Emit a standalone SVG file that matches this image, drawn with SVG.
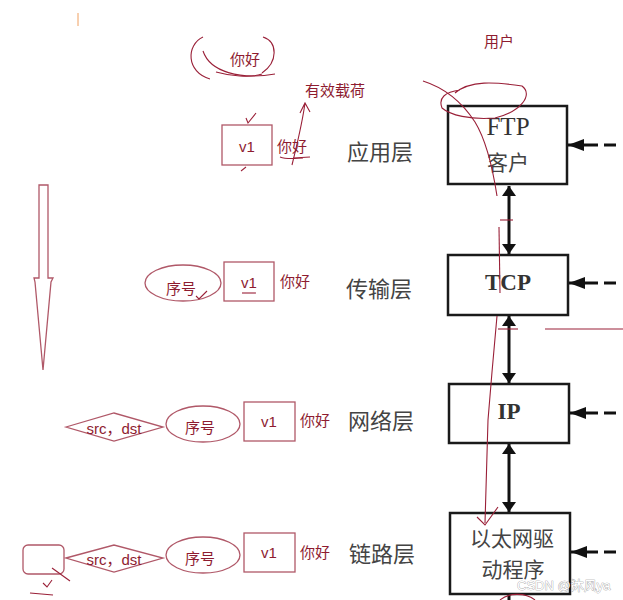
<svg xmlns="http://www.w3.org/2000/svg" width="623" height="600" viewBox="0 0 623 600">
<defs>
<marker id="ah" viewBox="0 0 10 14" refX="10" refY="7" markerWidth="10" markerHeight="14" markerUnits="userSpaceOnUse" orient="auto-start-reverse">
<path d="M0,0 L10,7 L0,14 Z" fill="#111"/>
</marker>
<marker id="al" viewBox="0 0 16 12" refX="16" refY="6" markerWidth="16" markerHeight="12" markerUnits="userSpaceOnUse" orient="auto">
<path d="M0,0 L16,6 L0,12 Z" fill="#111"/>
</marker>
</defs>
<style>
.box{fill:#fff;stroke:#1a1a1a;stroke-width:2.5}
.layer{font-family:"Noto Sans CJK SC",sans-serif;font-size:22px;fill:#444}
.bt{font-family:"Liberation Serif","Noto Sans CJK SC",serif;fill:#333;text-anchor:middle}
.cj{font-family:"Noto Sans CJK SC",sans-serif;font-size:21px;fill:#444;text-anchor:middle}
.conn{stroke:#111;stroke-width:3;fill:none}
.dash{stroke:#111;stroke-width:3;fill:none}
.rs{fill:none;stroke:#b05868;stroke-width:1.3}
.rd{fill:none;stroke:#9a2038;stroke-width:1.1}
.rt{font-family:"Liberation Sans","Noto Sans CJK SC",sans-serif;font-size:15px;fill:#8e1c30}
.rtc{font-family:"Liberation Sans","Noto Sans CJK SC",sans-serif;font-size:15px;fill:#8e1c30;text-anchor:middle}
</style>
<rect width="623" height="600" fill="#fff"/>

<!-- connectors -->
<g id="connectors">
<line class="conn" x1="509" y1="186" x2="509" y2="254" marker-start="url(#ah)" marker-end="url(#ah)"/>
<line class="conn" x1="509" y1="316" x2="509" y2="383" marker-start="url(#ah)" marker-end="url(#ah)"/>
<line class="conn" x1="509" y1="444" x2="509" y2="512" marker-start="url(#ah)" marker-end="url(#ah)"/>
<line class="conn" x1="509" y1="600" x2="509" y2="595"/>
<line class="conn" x1="598" y1="145" x2="568" y2="145" marker-end="url(#al)"/>
<line class="dash" x1="604" y1="145" x2="616" y2="145"/>
<line class="conn" x1="598" y1="283" x2="569" y2="283" marker-end="url(#al)"/>
<line class="dash" x1="604" y1="283" x2="616" y2="283"/>
<line class="conn" x1="598" y1="413" x2="570" y2="413" marker-end="url(#al)"/>
<line class="dash" x1="604" y1="413" x2="616" y2="413"/>
<line class="conn" x1="598" y1="552" x2="571" y2="552" marker-end="url(#al)"/>
<line class="dash" x1="604" y1="552" x2="616" y2="552"/>
</g>

<!-- protocol boxes -->
<g id="ftp">
<rect class="box" x="448" y="106" width="119" height="78"/>
<text class="bt" x="508" y="135" font-size="25">FTP</text>
<text class="cj" x="508" y="170">客户</text>
</g>
<g id="tcp">
<rect class="box" x="448" y="255" width="120" height="60"/>
<text class="bt" x="508" y="290" font-size="23" font-weight="bold">TCP</text>
</g>
<g id="ip">
<rect class="box" x="449" y="384" width="120" height="59"/>
<text class="bt" x="509" y="419" font-size="23" font-weight="bold">IP</text>
</g>
<g id="eth">
<rect class="box" x="450" y="513" width="120" height="81"/>
<text class="cj" x="512" y="546">以太网驱</text>
<text class="cj" x="513" y="577">动程序</text>
</g>

<!-- layer labels -->
<g id="layer-app"><text class="layer" x="347" y="160">应用层</text></g>
<g id="layer-trans"><text class="layer" x="346" y="297">传输层</text></g>
<g id="layer-net"><text class="layer" x="348" y="429">网络层</text></g>
<g id="layer-link"><text class="layer" x="349" y="562">链路层</text></g>

<!-- red annotations -->
<line x1="78" y1="13" x2="78" y2="26" stroke="#f0a060" stroke-width="1"/>

<g id="top-payload">
<path class="rd" d="M203,37 C186,45 186,72 210,79"/>
<path class="rd" d="M203,51 C210,72 240,80 275,74"/>
<path class="rd" d="M263,37 C278,42 278,62 262,73"/>
<path class="rd" d="M216,72 C230,76 250,78 262,74"/>
<text class="rt" x="230" y="65">你好</text>
</g>

<g id="user"><text class="rt" x="484" y="47">用户</text></g>
<g id="payload-label"><text class="rt" x="305" y="96">有效载荷</text></g>
<path class="rd" d="M292,165 C298,140 302,125 305,103 M300,113 L305,103 L310,112"/>
<path class="rd" d="M280,157 C288,160 298,158 303,158 M293,158 L310,157"/>

<g id="app-v1">
<rect class="rs" x="222" y="125" width="50" height="40"/>
<text class="rtc" x="247" y="152">v1</text>
<text class="rt" x="277" y="152">你好</text>
<path class="rd" d="M246,118 L248,123 L256,113"/>
<path class="rd" d="M241,171 L246,167"/>
</g>

<g id="trans-row">
<ellipse class="rs" cx="183" cy="283" rx="38" ry="18"/>
<text class="rtc" x="181" y="294">序号</text>
<path class="rd" d="M196,296 L199,299 L207,291"/>
<rect class="rs" x="224" y="262" width="50" height="39"/>
<text class="rtc" x="249" y="288">v1</text>
<line class="rd" x1="242" y1="293" x2="256" y2="293"/>
<text class="rt" x="280" y="287">你好</text>
</g>

<g id="net-row">
<path class="rs" d="M66,427 L114,413 L163,427 L114,441 Z"/>
<text class="rtc" x="114" y="434">src，dst</text>
<ellipse class="rs" cx="203" cy="424" rx="37" ry="18"/>
<text class="rtc" x="200" y="433">序号</text>
<rect class="rs" x="244" y="402" width="51" height="39"/>
<text class="rtc" x="269" y="427">v1</text>
<text class="rt" x="300" y="426">你好</text>
</g>

<g id="link-row">
<rect class="rs" x="23" y="545" width="41" height="29" rx="5"/>
<path class="rs" d="M66,558 L114,545 L163,558 L114,572 Z"/>
<text class="rtc" x="114" y="565">src，dst</text>
<ellipse class="rs" cx="203" cy="555" rx="37" ry="18"/>
<text class="rtc" x="200" y="564">序号</text>
<rect class="rs" x="244" y="533" width="51" height="39"/>
<text class="rtc" x="269" y="558">v1</text>
<text class="rt" x="300" y="558">你好</text>
<path class="rd" d="M52,568 L70,581"/>
<path class="rd" d="M43,583 L47,587 L52,580"/>
<path class="rd" d="M30,593 L53,595"/>
</g>

<g id="down-arrow">
<path class="rs" d="M39,185 L48,185 L48,278 L53,278 L51,282 L43,370 L35,282 L34,278 L39,278 Z"/>
</g>

<!-- big curve over stack -->
<g id="red-curve">
<path class="rd" d="M423,81 C445,88 462,102 475,122 C486,140 493,170 497,196"/>
<path class="rd" d="M499,227 L500,293"/>
<path class="rd" d="M497,316 L492,372 L488,420 L485,523"/>
<path class="rd" d="M477,517 L485,525 L498,507"/>
<path class="rd" d="M455,93 C470,80 495,82 522,86 C534,95 520,112 495,118 C470,120 450,115 442,108 C438,98 445,92 460,90"/>
<line class="rd" x1="500" y1="220" x2="513" y2="220"/>
<line class="rd" x1="498" y1="329" x2="518" y2="329"/>
<line class="rd" x1="545" y1="329" x2="623" y2="329"/>
<path class="rd" d="M500,600 C508,593 525,592 535,600"/>
</g>

<g id="watermark">
<text x="517" y="590" font-family="Liberation Sans,Noto Sans CJK SC,sans-serif" font-size="13" fill="#fff" stroke="#8c8c8c" stroke-width="0.6" paint-order="stroke">CSDN @沐风ya</text>
</g>
</svg>
